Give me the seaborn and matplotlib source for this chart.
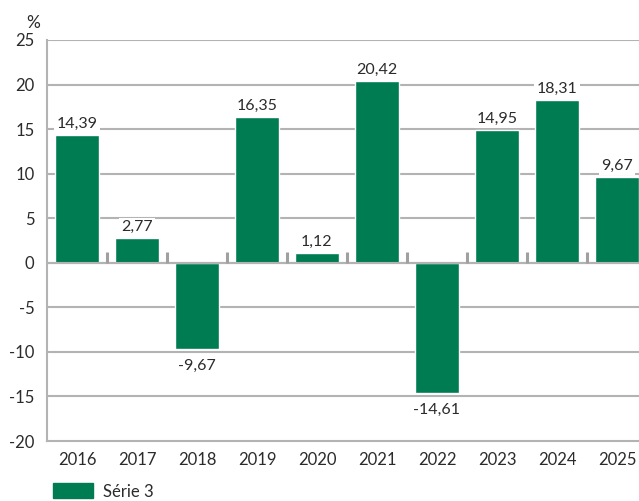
import matplotlib
matplotlib.use("Agg")
import matplotlib.pyplot as plt
import seaborn as sns
import pandas as pd
from matplotlib.patches import Patch

years = ["2016", "2017", "2018", "2019", "2020", "2021", "2022", "2023", "2024", "2025"]
values = [14.39, 2.77, -9.67, 16.35, 1.12, 20.42, -14.61, 14.95, 18.31, 9.67]
labels = ["14,39", "2,77", "-9,67", "16,35", "1,12", "20,42", "-14,61", "14,95", "18,31", "9,67"]
series_name = "Série 3"
yticks = [-20, -15, -10, -5, 0, 5, 10, 15, 20, 25]

green = "#007c52"
grid = "#b3b3b3"
txt = "#2b2b2b"

sns.set_theme(style="white")
plt.rcParams["font.family"] = ["Lato", "DejaVu Sans"]

df = pd.DataFrame({"year": years, "value": values})

fig = plt.figure(figsize=(6.39, 5.01), dpi=100)
ax = fig.add_axes([47/639, 1-441/501, 600/639, 401/501])
sns.barplot(data=df, x="year", y="value", color=green, width=0.73, ax=ax, zorder=3, saturation=1)

ax.set_ylim(-20, 25)
ax.set_xlim(-0.5, 9.5)
ax.set_yticks(yticks)
ax.set_yticklabels([str(t) for t in yticks])
for t in yticks:
    if t != -20:
        ax.axhline(t, color=grid, lw=1.5, zorder=1)
ax.axhline(0, color=grid, lw=1.5, zorder=4)
# separator ticks on zero line
for i in range(len(years) - 1):
    ax.plot([i + 0.5, i + 0.5], [0, 1.2], color="#a0a0a0", lw=2.2, zorder=4, solid_capstyle="butt")

for s in ["top", "right"]:
    ax.spines[s].set_visible(False)
ax.spines["left"].set_color(grid)
ax.spines["left"].set_linewidth(1.5)
ax.spines["bottom"].set_color(grid)
ax.spines["bottom"].set_linewidth(1.5)
ax.tick_params(axis="both", length=0, labelsize=12, colors=txt)
ax.tick_params(axis="y", pad=9)
ax.tick_params(axis="x", pad=8)
ax.set_xlabel("")
ax.set_ylabel("")

for i, (v, lab) in enumerate(zip(values, labels)):
    if v >= 0:
        ax.annotate(lab, (i, v), xytext=(0, 8), textcoords="offset points", ha="center", va="center",
                    fontsize=11.5, color=txt, zorder=5,
                    bbox=dict(boxstyle="square,pad=0.15", fc="white", ec="none"))
    else:
        ax.annotate(lab, (i, v), xytext=(0, -12), textcoords="offset points", ha="center", va="center",
                    fontsize=11.5, color=txt, zorder=5,
                    bbox=dict(boxstyle="square,pad=0.15", fc="white", ec="none"))

fig.text(33/639, 1-23/501, "%", ha="center", va="center", fontsize=12.5, color=txt)

fig.legend(handles=[Patch(color=green, label=series_name)], loc="lower left",
           bbox_to_anchor=(38/639, -0.027), frameon=False, fontsize=12,
           handlelength=2.4, handleheight=1.0, handletextpad=0.6, labelcolor=txt)

fig.savefig("out.png", dpi=100)
